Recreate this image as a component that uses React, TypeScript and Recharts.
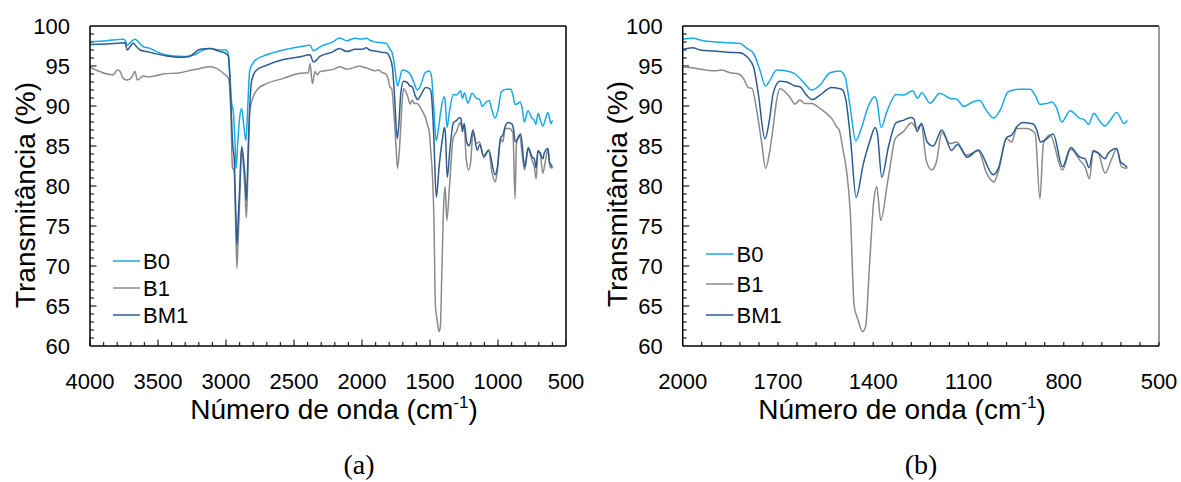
import React from "react";
import { LineChart, Line, XAxis, YAxis, ReferenceLine } from "recharts";

// ---------- data (wavenumber cm-1, transmittance %) ----------
const SERIES_NAMES = ["B0", "B1", "BM1"];
const SERIES_KEYS = ["b0", "b1", "bm1"];
const SERIES_COLORS = ["#1AA9E8", "#8A8A8A", "#2D5D90"];

const Y_TICKS = [60, 65, 70, 75, 80, 85, 90, 95, 100];
const X_TICKS_A = [4000, 3500, 3000, 2500, 2000, 1500, 1000, 500];
const X_TICKS_B = [2000, 1700, 1400, 1100, 800, 500];

const B0: [number, number][] = [
  [4000, 98.05], [3877, 98.17], [3755, 98.33], [3738, 98.1], [3726, 97.6], [3706, 97.9], [3669, 98.33], [3645, 98.04],
  [3608, 97.4], [3559, 97.2], [3485, 96.6], [3387, 96.25], [3300, 96.2], [3230, 96.4], [3191, 96.8], [3118, 97.2],
  [3044, 97.0], [3000, 97.0], [2985, 96.6], [2972, 94.0], [2958, 90.3], [2946, 89.3], [2935, 86.0], [2926, 82.2],
  [2915, 85.0], [2900, 88.5], [2885, 89.7], [2872, 88.0], [2862, 86.5], [2853, 85.7], [2840, 90.0], [2825, 94.5],
  [2800, 95.4], [2787, 95.7], [2700, 96.4], [2578, 97.0], [2456, 97.4], [2382, 97.6], [2358, 96.9], [2309, 97.4],
  [2211, 98.04], [2167, 98.5], [2112, 98.16], [2051, 98.46], [2000, 98.37], [1966, 98.46], [1945, 98.25], [1914, 98.05],
  [1850, 97.9], [1820, 97.83], [1798, 97.2], [1777, 96.6], [1757, 94.5], [1739, 92.5], [1725, 93.24], [1704, 94.5],
  [1672, 94.37], [1646, 94.0], [1620, 93.0], [1594, 92.0], [1568, 92.6], [1536, 94.16], [1505, 94.37], [1489, 93.66],
  [1473, 90.0], [1455, 85.65], [1436, 87.4], [1416, 89.9], [1396, 91.15], [1389, 90.74], [1375, 87.3], [1357, 89.3],
  [1328, 91.45], [1305, 91.36], [1275, 91.9], [1261, 90.95], [1247, 91.66], [1221, 90.35], [1190, 91.58], [1158, 90.95],
  [1137, 90.86], [1115, 89.95], [1085, 90.53], [1064, 90.7], [1048, 89.7], [1021, 88.5], [1000, 89.5], [975, 91.78],
  [938, 92.1], [906, 92.1], [890, 91.36], [875, 90.2], [854, 90.3], [838, 90.5], [824, 89.9], [806, 88.0],
  [780, 89.4], [749, 88.45], [736, 88.3], [722, 87.7], [705, 89.1], [688, 88.2], [670, 87.5], [654, 88.2],
  [633, 89.2], [610, 87.8], [600, 88.2],
];

const B1: [number, number][] = [
  [4000, 94.83], [3926, 94.3], [3877, 94.0], [3828, 93.9], [3799, 94.5], [3779, 94.3], [3755, 93.45], [3726, 93.24],
  [3694, 93.6], [3669, 94.3], [3652, 93.24], [3608, 93.74], [3559, 93.66], [3461, 94.0], [3338, 94.16], [3250, 94.5],
  [3191, 94.7], [3118, 94.9], [3069, 94.7], [3020, 94.08], [2982, 93.45], [2965, 89.5], [2953, 82.4], [2940, 81.8],
  [2930, 76.0], [2920, 69.7], [2910, 73.5], [2899, 78.3], [2885, 84.8], [2872, 82.5], [2862, 80.0], [2850, 76.0],
  [2840, 81.0], [2824, 89.5], [2799, 91.15], [2762, 92.2], [2701, 92.8], [2578, 93.45], [2456, 94.08], [2395, 94.16],
  [2382, 95.3], [2365, 92.8], [2346, 94.3], [2329, 93.9], [2309, 94.3], [2211, 94.58], [2162, 94.9], [2112, 94.6],
  [2014, 95.0], [2000, 94.9], [1956, 94.7], [1903, 94.4], [1877, 94.5], [1851, 94.16], [1824, 94.0], [1809, 93.45],
  [1793, 92.3], [1782, 92.2], [1767, 89.5], [1751, 85.3], [1739, 82.2], [1727, 84.07], [1715, 87.4], [1704, 90.74],
  [1694, 92.2], [1678, 91.78], [1662, 91.07], [1646, 90.24], [1631, 90.74], [1615, 90.3], [1594, 90.3], [1568, 89.7],
  [1547, 89.07], [1531, 88.45], [1515, 87.4], [1507, 87.0], [1495, 84.5], [1483, 81.6], [1472, 76.6], [1460, 65.0],
  [1448, 63.3], [1434, 61.8], [1424, 62.4], [1412, 69.9], [1398, 78.25], [1389, 79.9], [1376, 75.7], [1357, 79.9],
  [1347, 82.4], [1331, 85.9], [1305, 86.8], [1279, 87.9], [1263, 87.2], [1249, 87.7], [1233, 83.2], [1216, 82.0],
  [1201, 83.0], [1184, 86.7], [1158, 85.3], [1137, 85.5], [1106, 83.85], [1069, 84.4], [1043, 81.6], [1020, 80.5],
  [1006, 81.8], [980, 85.9], [964, 85.5], [948, 87.2], [917, 87.2], [890, 86.6], [875, 78.4], [864, 85.3],
  [843, 86.36], [804, 82.0], [778, 84.6], [749, 83.2], [733, 82.4], [719, 80.9], [707, 84.3], [691, 84.07],
  [670, 81.6], [649, 83.4], [633, 84.6], [618, 82.4], [600, 82.2],
];

const BM1: [number, number][] = [
  [4000, 97.7], [3877, 97.75], [3743, 97.9], [3726, 97.0], [3706, 97.4], [3681, 97.83], [3657, 97.4], [3632, 97.0],
  [3583, 96.8], [3534, 96.6], [3436, 96.25], [3338, 96.08], [3270, 96.2], [3191, 97.08], [3118, 97.2], [3044, 96.8],
  [3006, 96.6], [2982, 96.25], [2965, 90.7], [2950, 85.0], [2940, 83.5], [2930, 78.0], [2920, 72.6], [2910, 76.0],
  [2899, 80.0], [2885, 84.9], [2872, 83.5], [2862, 81.5], [2850, 78.2], [2840, 83.0], [2829, 88.6], [2811, 93.2],
  [2775, 94.5], [2701, 95.1], [2578, 95.8], [2456, 96.16], [2382, 96.4], [2358, 95.5], [2309, 96.2], [2211, 96.8],
  [2167, 97.2], [2112, 96.8], [2051, 97.08], [2000, 97.08], [1969, 97.28], [1945, 97.0], [1903, 96.87], [1851, 96.7],
  [1820, 96.66], [1798, 96.16], [1777, 94.9], [1762, 91.58], [1741, 85.9], [1727, 88.2], [1715, 91.58], [1694, 93.1],
  [1672, 93.0], [1646, 92.5], [1631, 92.4], [1610, 91.36], [1591, 90.8], [1568, 91.36], [1531, 92.3], [1499, 92.1],
  [1486, 90.74], [1471, 85.7], [1454, 78.6], [1431, 82.8], [1410, 85.7], [1394, 87.3], [1387, 86.6], [1373, 81.1],
  [1352, 84.9], [1328, 87.9], [1305, 88.2], [1282, 88.55], [1272, 88.4], [1262, 86.8], [1248, 87.8], [1230, 85.5],
  [1211, 85.0], [1184, 87.0], [1153, 84.45], [1135, 85.2], [1104, 83.6], [1069, 84.5], [1022, 81.4], [1006, 82.2],
  [980, 86.07], [964, 86.36], [948, 87.4], [927, 87.95], [896, 87.74], [885, 87.0], [873, 85.5], [854, 85.9],
  [833, 86.5], [804, 82.4], [778, 84.8], [749, 83.6], [733, 83.4], [720, 82.27], [707, 84.4], [691, 84.15],
  [670, 83.4], [660, 84.1], [633, 84.7], [621, 83.0], [607, 82.6], [600, 82.3],
];

const SERIES_DATA = [B0, B1, BM1];

function buildRows(maxWn: number) {
  const map = new Map<number, any>();
  SERIES_DATA.forEach((arr, i) => {
    arr.forEach(([wn, t]) => {
      if (wn > maxWn) return;
      const row = map.get(wn) || { wn };
      row[SERIES_KEYS[i]] = t;
      map.set(wn, row);
    });
  });
  return Array.from(map.values()).sort((a, b) => b.wn - a.wn);
}

const FONT = "'Liberation Sans', Arial, sans-serif";

type PanelProps = {
  left: number;
  width: number;
  yAxisWidth: number;
  marginRight: number;
  domain: [number, number];
  xTicks: number[];
  minorStep: number;
  majorStep: number;
  pxPerWn: number;
  rightBorder: string;
  maxWn: number;
};

function Panel(p: PanelProps) {
  const rows = buildRows(p.maxWn);
  const pxPerY = 8;
  const xMax = p.domain[1];
  const minor: number[] = [];
  for (let v = p.domain[0]; v <= p.domain[1] + 0.01; v += p.minorStep) minor.push(Math.round(v));
  const yVals: number[] = [];
  for (let v = 61; v <= 99; v++) yVals.push(v);
  const tickColor = "#222";
  return (
    <div style={{ position: "absolute", left: p.left, top: 0 }}>
      <LineChart
        width={p.width}
        height={420}
        data={rows}
        margin={{ top: 26, right: p.marginRight, bottom: 24, left: 0 }}
      >
        <XAxis
          dataKey="wn"
          type="number"
          domain={p.domain}
          reversed
          ticks={p.xTicks}
          interval={0}
          height={50}
          tickLine={false}
          tickSize={0}
          tickMargin={27}
          axisLine={{ stroke: "#000", strokeWidth: 1.5 }}
          tick={{ fontSize: 22, fill: "#000", fontFamily: FONT }}
          allowDataOverflow
        />
        <YAxis
          type="number"
          domain={[60, 100]}
          ticks={Y_TICKS}
          interval={0}
          width={p.yAxisWidth}
          tickLine={false}
          tickSize={0}
          tickMargin={20}
          axisLine={{ stroke: "#000", strokeWidth: 1.5 }}
          tick={{ fontSize: 22, fill: "#000", fontFamily: FONT }}
          allowDataOverflow
        />
        <ReferenceLine y={100} stroke="#000" strokeWidth={1.5} />
        <ReferenceLine x={p.domain[0]} stroke={p.rightBorder} strokeWidth={1.5} />
        {minor.map((v) => {
          const major = v % p.majorStep === 0;
          const len = (major ? 6.5 : 4) / pxPerY;
          return (
            <ReferenceLine
              key={"xt" + v}
              segment={[{ x: v, y: 60 }, { x: v, y: 60 + len }]}
              stroke={tickColor}
              strokeWidth={1.2}
            />
          );
        })}
        {yVals.map((v) => {
          const major = v % 5 === 0;
          const len = (major ? 6.5 : 4) / p.pxPerWn;
          return (
            <ReferenceLine
              key={"yt" + v}
              segment={[{ x: xMax, y: v }, { x: xMax - len, y: v }]}
              stroke={tickColor}
              strokeWidth={1.2}
            />
          );
        })}
        {SERIES_KEYS.map((k, i) => (
          <Line
            key={k}
            dataKey={k}
            name={SERIES_NAMES[i]}
            type="monotone"
            stroke={SERIES_COLORS[i]}
            strokeWidth={1.5}
            dot={false}
            activeDot={false}
            connectNulls
            isAnimationActive={false}
          />
        ))}
      </LineChart>
    </div>
  );
}

function Legend({ x1, x2, ys }: { x1: number; x2: number; ys: number[] }) {
  return (
    <g>
      {SERIES_NAMES.map((n, i) => (
        <g key={n}>
          <line x1={x1} x2={x2} y1={ys[i]} y2={ys[i]} stroke={SERIES_COLORS[i]} strokeWidth={1.5} />
          <text x={x2 + 3} y={ys[i] + 8} fontSize={22} fontFamily={FONT} fill="#000">
            {n}
          </text>
        </g>
      ))}
    </g>
  );
}

function XTitle({ cx }: { cx: number }) {
  return (
    <text x={cx} y={419} textAnchor="middle" fontSize={28} fontFamily={FONT} fill="#000">
      Número de onda (cm
      <tspan fontSize={17} dy={-11}>-1</tspan>
      <tspan dy={11}>)</tspan>
    </text>
  );
}

function YTitle({ x, cy }: { x: number; cy: number }) {
  return (
    <text
      transform={`translate(${x},${cy}) rotate(-90)`}
      textAnchor="middle"
      fontSize={28}
      fontFamily={FONT}
      fill="#000"
    >
      Transmitância (%)
    </text>
  );
}

export default function App() {
  return (
    <div style={{ position: "absolute", left: 0, top: 0, width: 1181, height: 482, background: "#fff", overflow: "hidden" }}>
      <Panel
        left={0}
        width={590}
        yAxisWidth={90}
        marginRight={24}
        domain={[500, 4000]}
        xTicks={X_TICKS_A}
        minorStep={100}
        majorStep={500}
        pxPerWn={476 / 3500}
        rightBorder="#000"
        maxWn={4000}
      />
      <Panel
        left={590}
        width={591}
        yAxisWidth={92.7}
        marginRight={22}
        domain={[500, 2000]}
        xTicks={X_TICKS_B}
        minorStep={60}
        majorStep={300}
        pxPerWn={476.3 / 1500}
        rightBorder="#7A7A7A"
        maxWn={2000}
      />
      <svg width={1181} height={482} style={{ position: "absolute", left: 0, top: 0, pointerEvents: "none" }}>
        <YTitle x={35} cy={195} />
        <YTitle x={627} cy={194} />
        <XTitle cx={334} />
        <XTitle cx={902} />
        <Legend x1={113} x2={140} ys={[261, 288, 315]} />
        <Legend x1={706} x2={733.5} ys={[254, 284, 315]} />
        <text x={359} y={474} textAnchor="middle" fontSize={28} fontFamily="'Liberation Serif', 'Times New Roman', serif" fill="#000">
          (a)
        </text>
        <text x={921} y={474} textAnchor="middle" fontSize={28} fontFamily="'Liberation Serif', 'Times New Roman', serif" fill="#000">
          (b)
        </text>
      </svg>
    </div>
  );
}
